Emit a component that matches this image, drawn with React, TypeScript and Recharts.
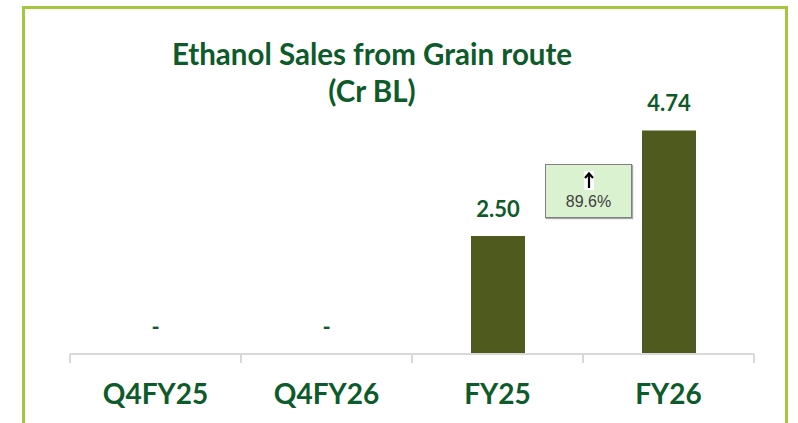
import { Bar, BarChart, LabelList, XAxis, YAxis } from "recharts";

const categories = ["Q4FY25", "Q4FY26", "FY25", "FY26"];
const salesCrBL = [0, 0, 2.5, 4.74];
const growthLabel = "89.6%";

const data = categories.map((period, i) => ({ period, value: salesCrBL[i] }));

const TEXT_GREEN = "#0d5a2a";
const BAR_OLIVE = "#4f5b1e";
const FONT = "Lato, 'Noto Sans', sans-serif";

const W = 798;
const H = 423;
const MARGIN = { top: 71, right: 44, bottom: 0, left: 70 };
const BAND = (W - MARGIN.left - MARGIN.right) / categories.length;
const LABEL_GAP = 19;

function PeriodTick(props: any) {
  const { x, y, payload, index } = props;
  const last = index === categories.length - 1;
  const zero = salesCrBL[index] === 0;
  return (
    <g>
      <line x1={x - BAND / 2} x2={x - BAND / 2} y1={y} y2={y + 9} stroke="#d9d9d9" strokeWidth={2} />
      {last && <line x1={x + BAND / 2} x2={x + BAND / 2} y1={y} y2={y + 9} stroke="#d9d9d9" strokeWidth={2} />}
      {zero && (
        <text x={x} y={y - LABEL_GAP} textAnchor="middle" fill={TEXT_GREEN} fontFamily={FONT} fontWeight={700} fontSize={22}>
          -
        </text>
      )}
      <text x={x} y={y + 50} textAnchor="middle" fill={TEXT_GREEN} fontFamily={FONT} fontWeight={700} fontSize={28}>
        {payload.value}
      </text>
    </g>
  );
}

export default function App() {
  return (
    <div style={{ position: "absolute", left: 0, top: 0, width: W, height: H, overflow: "hidden", background: "#fff" }}>
      <div
        style={{
          position: "absolute",
          left: 22,
          top: 6,
          width: 766,
          height: 500,
          border: "3px solid #a5c73c",
          boxSizing: "border-box",
        }}
      />
      <div
        style={{
          position: "absolute",
          left: 0,
          top: 35,
          width: 744,
          textAlign: "center",
          fontFamily: FONT,
          fontWeight: 700,
          fontSize: 29.5,
          lineHeight: "37px",
          color: TEXT_GREEN,
        }}
      >
        Ethanol Sales from Grain route
        <br />
        (Cr BL)
      </div>
      <BarChart width={W} height={H} data={data} margin={MARGIN} barSize={54} style={{ position: "absolute", left: 0, top: 0 }}>
        <YAxis hide domain={[0, 6]} />
        <XAxis
          dataKey="period"
          height={69}
          axisLine={{ stroke: "#d9d9d9", strokeWidth: 2 }}
          tickLine={false}
          tickSize={0}
          tickMargin={0}
          interval={0}
          tick={<PeriodTick />}
        />
        <Bar dataKey="value" fill={BAR_OLIVE} isAnimationActive={false}>
          <LabelList
            dataKey="value"
            position="top"
            offset={LABEL_GAP}
            formatter={(v: any) => (Number(v) === 0 ? "" : Number(v).toFixed(2))}
            fill={TEXT_GREEN}
            fontFamily={FONT}
            fontWeight={700}
            fontSize={22}
          />
        </Bar>
      </BarChart>
      <div
        style={{
          position: "absolute",
          left: 545,
          top: 164,
          width: 87,
          height: 54,
          boxSizing: "border-box",
          background: "#daf2d0",
          border: "1px solid #808080",
          boxShadow: "1px 1px 1px rgba(0,0,0,0.35)",
          textAlign: "center",
          fontFamily: "'Liberation Sans', Arial, sans-serif",
        }}
      >
        <svg width={10} height={19} style={{ display: "block", margin: "6px auto 0", background: "#fff" }}>
          <path d="M5 17 V3 M1 7 L5 2.5 L9 7" stroke="#000" strokeWidth={2.2} fill="none" />
        </svg>
        <div style={{ fontSize: 16, color: "#404040", lineHeight: "18px", marginTop: 3 }}>{growthLabel}</div>
      </div>
    </div>
  );
}
